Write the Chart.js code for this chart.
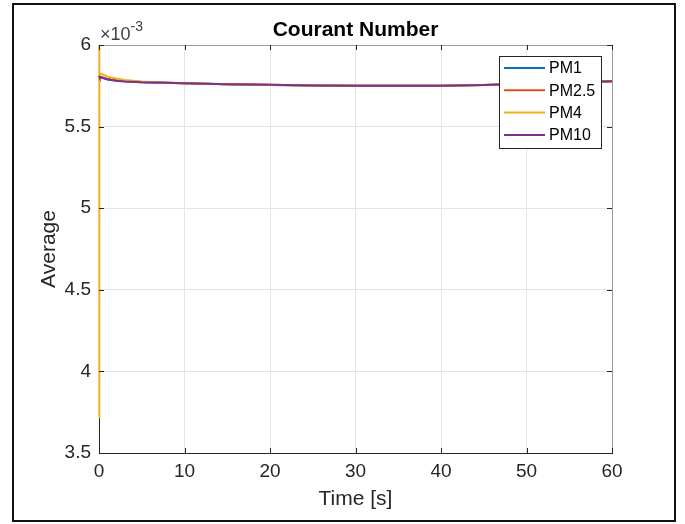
<!DOCTYPE html>
<html>
<head>
<meta charset="utf-8">
<script src="https://cdn.jsdelivr.net/npm/chart.js@4.4.0/dist/chart.umd.min.js"></script>
<style>
  html, body { margin: 0; padding: 0; background: #fff; }
</style>
</head>
<body>
<canvas id="myChart" width="685" height="524"></canvas>
<script>
'use strict';

// values, y in units of 1e-3
// (only PM4's jump from the initial value is visible, the others start hidden under it)
const timeS = [0, 0.02, 0.05, 0.2, 0.5, 1, 2, 3, 5, 7.5, 10, 15, 20, 25, 30, 35, 40, 45, 50, 55, 60];

const pm1 = [null, 5.812, 5.808, 5.803, 5.798, 5.790, 5.782, 5.778, 5.772, 5.769, 5.766, 5.760, 5.755, 5.752, 5.750, 5.750, 5.751, 5.755, 5.761, 5.769, 5.777];
const pm25 = [null, 5.815, 5.810, 5.805, 5.800, 5.792, 5.784, 5.779, 5.773, 5.770, 5.766, 5.760, 5.756, 5.752, 5.750, 5.750, 5.751, 5.755, 5.762, 5.770, 5.778];
const pm4 = [3.72, 6.0, 5.830, 5.825, 5.818, 5.806, 5.795, 5.786, 5.776, 5.769, 5.765, 5.759, 5.755, 5.752, 5.750, 5.750, 5.751, 5.755, 5.761, 5.769, 5.777];
const pm10 = [null, 5.810, 5.806, 5.802, 5.797, 5.789, 5.781, 5.777, 5.772, 5.769, 5.766, 5.760, 5.756, 5.752, 5.750, 5.750, 5.751, 5.755, 5.762, 5.770, 5.778];

const seriesNames = ['PM1', 'PM2.5', 'PM4', 'PM10'];
const seriesColors = ['#0072BD', '#D95319', '#EDB120', '#7E2F8E'];
const xTicks = [0, 10, 20, 30, 40, 50, 60];
const yTicks = [3.5, 4, 4.5, 5, 5.5, 6];

const chartTitle = 'Courant Number';
const xLabel = 'Time [s]';
const yLabel = 'Average';
const yExponent = '-3';

const FONT = '"Liberation Sans", Arial, Helvetica, sans-serif';
const AXIS = '#262626';


function toPoints(values) {
    return values.map((v, i) => ({ x: timeS[i], y: v }));
}

function makeDataset(name, values, idx) {
    return {
        label: name,
        data: toPoints(values),
        borderColor: seriesColors[idx],
        backgroundColor: seriesColors[idx],
        borderWidth: 2,
        pointRadius: 0,
        showLine: true,
        spanGaps: false,
        tension: 0,
        clip: 3,
        // last series drawn on top, like matlab
        order: seriesNames.length - idx
    };
}

// matlab-ish decorations: box, inward ticks, exponent, title, legend, frame
const matlabLook = {
    id: 'matlabLook',
    beforeDraw(chart) {
        const ctx = chart.ctx;
        ctx.save();
        ctx.fillStyle = '#fff';
        ctx.fillRect(0, 0, chart.width, chart.height);
        ctx.restore();
    },
    afterDraw(chart) {
        const ctx = chart.ctx;
        const a = chart.chartArea;
        const xs = chart.scales.x;
        const ys = chart.scales.y;
        ctx.save();

        // top and right box lines
        ctx.strokeStyle = '#9a9a9a';
        ctx.lineWidth = 1;
        ctx.beginPath();
        ctx.moveTo(a.left, a.top + 0.5);
        ctx.lineTo(a.right + 0.5, a.top + 0.5);
        ctx.lineTo(a.right + 0.5, a.bottom);
        ctx.stroke();

        // inward ticks
        ctx.strokeStyle = AXIS;
        ctx.beginPath();
        xTicks.forEach(t => {
            const px = Math.round(xs.getPixelForValue(t)) + 0.5;
            ctx.moveTo(px, a.bottom);
            ctx.lineTo(px, a.bottom - 5);
            ctx.moveTo(px, a.top);
            ctx.lineTo(px, a.top + 5);
        });
        yTicks.forEach(t => {
            const py = Math.round(ys.getPixelForValue(t)) + 0.5;
            ctx.moveTo(a.left, py);
            ctx.lineTo(a.left + 5, py);
            ctx.moveTo(a.right, py);
            ctx.lineTo(a.right - 5, py);
        });
        ctx.stroke();

        // x10^-3 above the y axis
        ctx.fillStyle = '#404040';
        ctx.textBaseline = 'alphabetic';
        ctx.textAlign = 'left';
        ctx.font = '18px ' + FONT;
        ctx.fillText('\u00d710', a.left + 1, a.top - 5);
        const w = ctx.measureText('\u00d710').width;
        ctx.font = '14px ' + FONT;
        ctx.fillText(yExponent, a.left + 1 + w, a.top - 14);

        // title
        ctx.fillStyle = '#000';
        ctx.textAlign = 'center';
        ctx.textBaseline = 'middle';
        ctx.font = 'bold 21px ' + FONT;
        ctx.fillText(chartTitle, (a.left + a.right) / 2, 30);

        // legend box
        const lx = 499.5, ly = 56.5, lw = 102, lh = 92;
        ctx.fillStyle = '#fff';
        ctx.fillRect(lx, ly, lw, lh);
        ctx.strokeStyle = AXIS;
        ctx.lineWidth = 1;
        ctx.strokeRect(lx, ly, lw, lh);
        ctx.font = '16px ' + FONT;
        ctx.textAlign = 'left';
        chart.data.datasets.forEach((ds, i) => {
            const yy = 68 + i * 22.3;
            ctx.strokeStyle = ds.borderColor;
            ctx.lineWidth = 2;
            ctx.beginPath();
            ctx.moveTo(504, yy);
            ctx.lineTo(545, yy);
            ctx.stroke();
            ctx.fillStyle = '#000';
            ctx.fillText(ds.label, 549, yy + 1);
        });

        // outer frame of the figure
        ctx.strokeStyle = '#111';
        ctx.lineWidth = 2;
        ctx.strokeRect(13, 4, 662, 517);
        ctx.restore();
    }
};

var ctx = document.getElementById('myChart').getContext('2d');
var chart = new Chart(ctx, {
    type: 'scatter',
    data: {
        datasets: [
            makeDataset(seriesNames[0], pm1, 0),
            makeDataset(seriesNames[1], pm25, 1),
            makeDataset(seriesNames[2], pm4, 2),
            makeDataset(seriesNames[3], pm10, 3)
        ]
    },
    options: {
        responsive: false,
        animation: false,
        devicePixelRatio: 1,
        layout: { padding: { left: 0, right: 73, top: 45, bottom: 0 } },
        plugins: {
            legend: { display: false },
            title: { display: false },
            tooltip: { enabled: false }
        },
        scales: {
            x: {
                type: 'linear',
                min: 0,
                max: 60,
                afterBuildTicks: s => { s.ticks = xTicks.map(v => ({ value: v })); },
                afterFit: s => { s.height = 71; },
                ticks: {
                    color: AXIS,
                    font: { family: FONT, size: 19 },
                    padding: 7,
                    maxRotation: 0,
                    callback: v => String(v)
                },
                grid: { color: '#e4e4e4', drawTicks: false },
                border: { color: AXIS, width: 1 },
                title: {
                    display: true,
                    text: xLabel,
                    color: AXIS,
                    font: { family: FONT, size: 21 },
                    padding: { top: 0, bottom: 12 }
                }
            },
            y: {
                type: 'linear',
                min: 3.5,
                max: 6,
                afterBuildTicks: s => { s.ticks = yTicks.map(v => ({ value: v })); },
                afterFit: s => { s.width = 99; },
                ticks: {
                    color: AXIS,
                    font: { family: FONT, size: 19 },
                    padding: 8,
                    callback: v => String(v)
                },
                grid: { color: '#e4e4e4', drawTicks: false },
                border: { color: AXIS, width: 1 },
                title: {
                    display: true,
                    text: yLabel,
                    color: AXIS,
                    font: { family: FONT, size: 21 },
                    padding: { top: 37, bottom: 0 }
                }
            }
        }
    },
    plugins: [matlabLook]
});
</script>
</body>
</html>
